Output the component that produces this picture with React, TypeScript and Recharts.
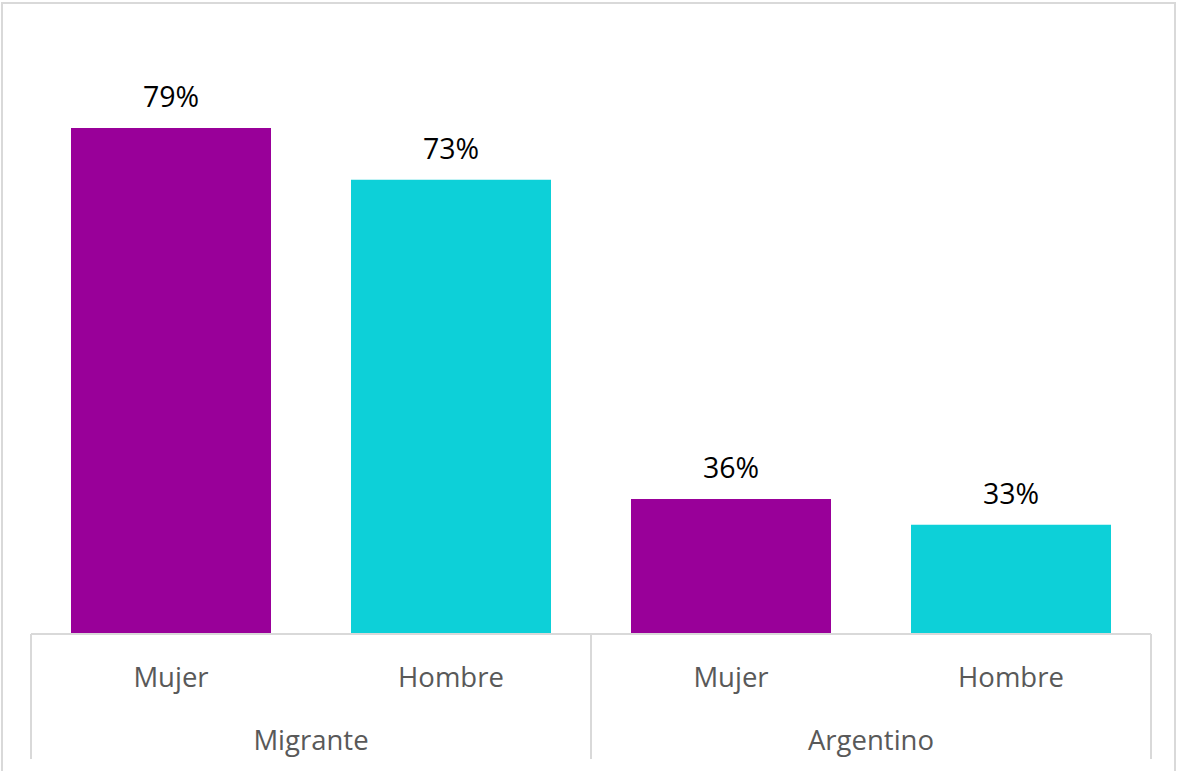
import { BarChart, Bar, XAxis, YAxis, Cell, LabelList } from "recharts";

const genders = ["Mujer", "Hombre", "Mujer", "Hombre"];
const groups = ["Migrante", "Migrante", "Argentino", "Argentino"];
const values = [79, 73, 36, 33];
const genderColors: Record<string, string> = { Mujer: "#990099", Hombre: "#0dd0d8" };

const data = genders.map((g, i) => ({ gender: g, group: groups[i], value: values[i] }));

const FONT = "'Open Sans', 'Noto Sans', sans-serif";
const AXIS_GRAY = "#d9d9d9";

function GenderTick({ x, y, payload }: any) {
  return (
    <text x={x} y={y} dy={45} textAnchor="middle" fill="#595959" fontSize={27.5} fontFamily={FONT}>
      {payload.value}
    </text>
  );
}

function GroupTick({ x, y, payload, index, visibleTicksCount }: any) {
  const half = payload.offset || 280;
  const top = y - 71;
  const bottom = y + 54;
  return (
    <g>
      <line x1={x - half} x2={x - half} y1={top} y2={bottom} stroke={AXIS_GRAY} strokeWidth={2} />
      {index === visibleTicksCount - 1 && (
        <line x1={x + half} x2={x + half} y1={top} y2={bottom} stroke={AXIS_GRAY} strokeWidth={2} />
      )}
      <text x={x} y={y} dy={45} textAnchor="middle" fill="#595959" fontSize={27.5} fontFamily={FONT}>
        {payload.value}
      </text>
    </g>
  );
}

export default function App() {
  return (
    <div style={{ position: "absolute", left: 0, top: 0, width: 1180, height: 771, background: "#fff", overflow: "hidden" }}>
      <div
        style={{
          position: "absolute",
          left: 1,
          top: 2,
          width: 1175,
          height: 800,
          border: `2px solid ${AXIS_GRAY}`,
          boxSizing: "border-box",
        }}
      />
      <div style={{ position: "absolute", left: 0, top: 0 }}>
        <BarChart width={1180} height={771} data={data} margin={{ top: 30, right: 29, left: 31, bottom: 12 }}>
          <XAxis
            dataKey="gender"
            xAxisId="gender"
            tickLine={false}
            axisLine={{ stroke: AXIS_GRAY, strokeWidth: 2 }}
            height={63}
            interval={0}
            tick={<GenderTick />}
          />
          <XAxis
            dataKey="group"
            xAxisId="group"
            allowDuplicatedCategory={false}
            tickLine={false}
            axisLine={false}
            height={62}
            interval={0}
            tick={<GroupTick />}
          />
          <YAxis hide domain={[20.35, 90.35]} />
          <Bar dataKey="value" xAxisId="gender" barSize={200} isAnimationActive={false}>
            {data.map((d, i) => (
              <Cell key={i} fill={genderColors[d.gender]} />
            ))}
            <LabelList
              dataKey="value"
              position="top"
              offset={21}
              formatter={(v: any) => `${v}%`}
              style={{ fill: "#000", fontSize: 28.5, fontFamily: FONT }}
            />
          </Bar>
        </BarChart>
      </div>
    </div>
  );
}
